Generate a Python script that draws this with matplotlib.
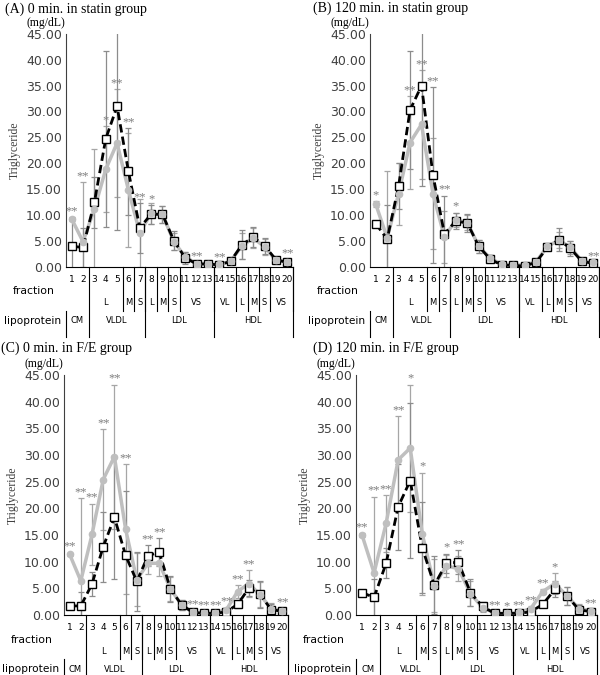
import matplotlib
matplotlib.use('Agg')
import matplotlib.pyplot as plt
import numpy as np

fractions = np.arange(1, 21)
subclass_groups = [(3, 5, 'L'), (6, 6, 'M'), (7, 7, 'S'), (8, 8, 'L'), (9, 9, 'M'), (10, 10, 'S'),
                   (11, 13, 'VS'), (14, 15, 'VL'), (16, 16, 'L'), (17, 17, 'M'), (18, 18, 'S'), (19, 20, 'VS')]
lipoprotein_groups = [(1, 2, 'CM'), (3, 7, 'VLDL'), (8, 13, 'LDL'), (14, 20, 'HDL')]
yticks = np.arange(0, 46, 5)

# (A) 0 min statin
a_black = [3.9, 3.7, 12.4, 24.7, 31.0, 18.4, 7.5, 10.1, 10.1, 5.0, 1.7, 0.5, 0.5, 0.3, 1.0, 4.2, 5.7, 4.0, 1.3, 0.8]
a_black_err = [5.4, 3.7, 5.0, 17.0, 24.0, 8.4, 4.8, 1.8, 1.6, 1.8, 1.2, 0.3, 0.3, 0.3, 0.4, 2.8, 1.9, 1.5, 0.4, 0.3]
a_grey = [9.2, 4.8, 11.1, 18.8, 23.9, 14.8, 6.5, 10.3, 10.1, 4.8, 1.9, 0.5, 0.4, 0.4, 1.0, 4.0, 5.5, 3.8, 1.2, 0.9]
a_grey_err = [0.3, 11.5, 11.6, 8.3, 10.4, 11.0, 6.5, 2.0, 1.6, 1.6, 1.0, 0.3, 0.3, 0.2, 0.4, 2.5, 2.0, 1.5, 0.4, 0.4]
a_stars = [(1, '**', 'g'), (2, '**', 'g'), (4, '*', 'g'), (5, '**', 'g'), (6, '**', 'b'), (7, '**', 'b'),
           (8, '*', 'b'), (12, '**', 'g'), (14, '**', 'g'), (20, '**', 'g')]

# (B) 120 min statin
b_black = [8.3, 5.3, 15.6, 30.3, 35.0, 17.7, 6.3, 8.8, 8.4, 3.9, 1.4, 0.3, 0.2, 0.1, 0.8, 3.7, 5.2, 3.5, 1.0, 0.6]
b_black_err = [0.5, 6.7, 4.5, 11.5, 19.5, 17.0, 7.4, 1.6, 1.7, 1.3, 0.5, 0.2, 0.2, 0.2, 0.3, 0.5, 2.2, 1.5, 0.3, 0.3]
b_grey = [12.1, 5.5, 14.1, 24.0, 27.5, 14.1, 5.7, 9.0, 8.5, 3.9, 1.6, 0.4, 0.3, 0.3, 0.9, 3.9, 5.1, 3.7, 1.1, 0.8]
b_grey_err = [0.5, 12.9, 6.0, 9.0, 10.5, 10.7, 5.0, 1.4, 1.5, 1.3, 0.6, 0.2, 0.2, 0.2, 0.3, 0.4, 1.5, 1.3, 0.3, 0.3]
b_stars = [(1, '*', 'g'), (4, '**', 'g'), (5, '**', 'g'), (6, '**', 'b'), (7, '**', 'b'), (8, '*', 'b'),
           (20, '**', 'b')]

# (C) 0 min F/E
c_black = [1.7, 1.7, 5.8, 12.8, 18.3, 11.2, 6.3, 11.1, 11.8, 4.9, 1.9, 0.5, 0.3, 0.3, 0.6, 2.0, 5.0, 3.9, 1.0, 0.7]
c_black_err = [0.5, 2.7, 2.3, 6.6, 11.5, 12.0, 5.5, 2.0, 2.6, 2.5, 1.0, 0.3, 0.2, 0.2, 0.3, 0.6, 1.5, 2.5, 1.0, 0.4]
c_grey = [11.4, 6.4, 15.1, 25.4, 29.7, 16.1, 6.6, 9.7, 9.7, 4.9, 1.9, 0.5, 0.4, 0.4, 1.0, 4.4, 5.9, 3.8, 1.2, 0.8]
c_grey_err = [0.3, 15.5, 5.8, 9.5, 13.5, 12.2, 5.0, 2.0, 2.3, 2.2, 1.0, 0.3, 0.2, 0.2, 0.4, 1.2, 2.5, 2.3, 1.0, 0.4]
c_stars = [(1, '**', 'g'), (2, '**', 'g'), (3, '**', 'g'), (4, '**', 'g'), (5, '**', 'g'), (6, '**', 'g'),
           (8, '**', 'b'), (9, '**', 'b'), (12, '**', 'g'), (13, '**', 'g'), (14, '**', 'g'), (15, '**', 'g'),
           (16, '**', 'g'), (17, '**', 'g'), (20, '**', 'g')]

# (D) 120 min F/E
d_black = [4.2, 3.3, 9.7, 20.3, 25.2, 12.6, 5.6, 9.7, 9.9, 4.2, 1.6, 0.3, 0.3, 0.3, 0.6, 2.0, 4.8, 3.6, 1.0, 0.6]
d_black_err = [0.4, 3.5, 2.8, 8.1, 14.6, 8.5, 5.5, 1.8, 2.3, 2.5, 0.8, 0.2, 0.2, 0.2, 0.3, 0.5, 1.5, 1.7, 0.8, 0.3]
d_grey = [15.0, 7.9, 17.2, 29.1, 31.3, 15.2, 5.5, 9.2, 8.7, 4.0, 1.4, 0.4, 0.3, 0.5, 1.2, 4.4, 5.9, 3.6, 1.2, 0.8]
d_grey_err = [0.3, 14.3, 5.3, 8.2, 11.9, 11.5, 5.0, 2.0, 2.3, 2.3, 0.8, 0.2, 0.2, 0.2, 0.4, 0.4, 2.0, 1.7, 0.8, 0.3]
d_stars = [(1, '**', 'g'), (2, '**', 'g'), (3, '**', 'g'), (4, '**', 'g'), (5, '*', 'g'), (6, '*', 'g'),
           (8, '*', 'b'), (9, '**', 'b'), (12, '**', 'g'), (13, '*', 'g'), (14, '**', 'g'), (15, '**', 'g'),
           (16, '**', 'g'), (17, '*', 'g'), (20, '**', 'g')]

SERIF = 'Liberation Serif'
SANS = 'DejaVu Sans'
W, H = 600, 675

fig = plt.figure(figsize=(6, 6.75), dpi=100)


def draw_table(ax):
    h = ax.bbox.height
    tr = ax.get_xaxis_transform()

    def oy(p):
        return -p / h
    kw = dict(transform=tr, clip_on=False, color='black', lw=0.8)
    for f in fractions:
        ax.text(f, oy(13), str(f), ha='center', va='center', fontsize=6.5, family=SANS, transform=tr)
    for s, e, lab in subclass_groups:
        ax.text((s + e) / 2, oy(36), lab, ha='center', va='center', fontsize=6, family=SANS, transform=tr)
        ax.plot([e + 0.5] * 2, [0, oy(44)], **kw)
    for s, e, lab in lipoprotein_groups:
        ax.text((s + e) / 2, oy(54), lab, ha='center', va='center', fontsize=6, family=SANS, transform=tr)
        ax.plot([e + 0.5] * 2, [0, oy(70)], **kw)
    ax.plot([0.5, 0.5], [oy(44), oy(70)], **kw)
    ax.annotate('fraction', xy=(0, 0), xycoords='axes fraction', xytext=(-32, -25),
                textcoords='offset pixels', ha='center', va='center', fontsize=7.8, family=SANS)
    ax.annotate('lipoprotein', xy=(0, 0), xycoords='axes fraction', xytext=(-33, -54),
                textcoords='offset pixels', ha='center', va='center', fontsize=7.6, family=SANS)


def draw_panel(rect_px, title, title_px, black, black_err, grey, grey_err, stars):
    l, t, r, b = rect_px
    ax = fig.add_axes([l / W, 1 - b / H, (r - l) / W, (b - t) / H])
    ax.errorbar(fractions, grey, yerr=grey_err, fmt='none', ecolor='#a6a6a6', elinewidth=0.9,
                capsize=2.5, capthick=0.9, zorder=1)
    ax.errorbar(fractions, black, yerr=black_err, fmt='none', ecolor='#8c8c8c', elinewidth=0.9,
                capsize=2.5, capthick=0.9, zorder=1)
    ax.plot(fractions, grey, color='#bfbfbf', lw=2.5, zorder=2)
    ax.plot(fractions, black, color='black', lw=2, dashes=(3, 1.5), zorder=3)
    ax.plot(fractions, black, ls='none', marker='s', ms=5.5, mfc='white', mec='black', mew=1, zorder=4)
    ax.plot(fractions, grey, ls='none', marker='o', ms=4.5, mfc='#bfbfbf', mec='#bfbfbf', zorder=5)

    for f, lab, which in stars:
        i = f - 1
        top = grey[i] + grey_err[i] if which == 'g' else black[i] + black_err[i]
        ax.annotate(lab, xy=(f, top), xytext=(0, 0), textcoords='offset pixels', ha='center',
                    va='bottom', fontsize=9, family=SERIF, color='#7f7f7f', annotation_clip=False)

    ax.set_xlim(0.5, 20.5)
    ax.set_ylim(0, 45)
    ax.set_yticks(yticks)
    ax.set_yticklabels(['%.2f' % v for v in yticks], family=SANS, fontsize=9, color='#404040')
    ax.set_xticks([])
    ax.tick_params(axis='y', length=0, pad=3)
    for s in ['top', 'right']:
        ax.spines[s].set_visible(False)
    ax.spines['left'].set_color('#404040')
    ax.spines['bottom'].set_color('black')
    ax.set_facecolor('none')

    ax.annotate('(mg/dL)', xy=(0, 1), xycoords='axes fraction', xytext=(-20, 11),
                textcoords='offset pixels', ha='center', va='center', fontsize=8.5, family=SERIF)
    ax.annotate('Triglyceride', xy=(0, 0.5), xycoords='axes fraction', xytext=(-51, 0),
                textcoords='offset pixels', ha='center', va='center', fontsize=8.5, family=SERIF,
                rotation=90, color='#404040')
    fig.text(title_px[0] / W, 1 - title_px[1] / H, title, ha='left', va='center', fontsize=10, family=SERIF)
    draw_table(ax)


draw_panel((66, 34, 293, 266.5), '(A) 0 min. in statin group', (5, 9),
           a_black, a_black_err, a_grey, a_grey_err, a_stars)
draw_panel((370, 34, 599, 266.5), '(B) 120 min. in statin group', (313, 8),
           b_black, b_black_err, b_grey, b_grey_err, b_stars)
draw_panel((64, 375, 288, 615), '(C) 0 min. in F/E group', (1, 348),
           c_black, c_black_err, c_grey, c_grey_err, c_stars)
draw_panel((356, 375, 597, 615), '(D) 120 min. in F/E group', (313, 348),
           d_black, d_black_err, d_grey, d_grey_err, d_stars)

fig.savefig('out.png', dpi=100)
